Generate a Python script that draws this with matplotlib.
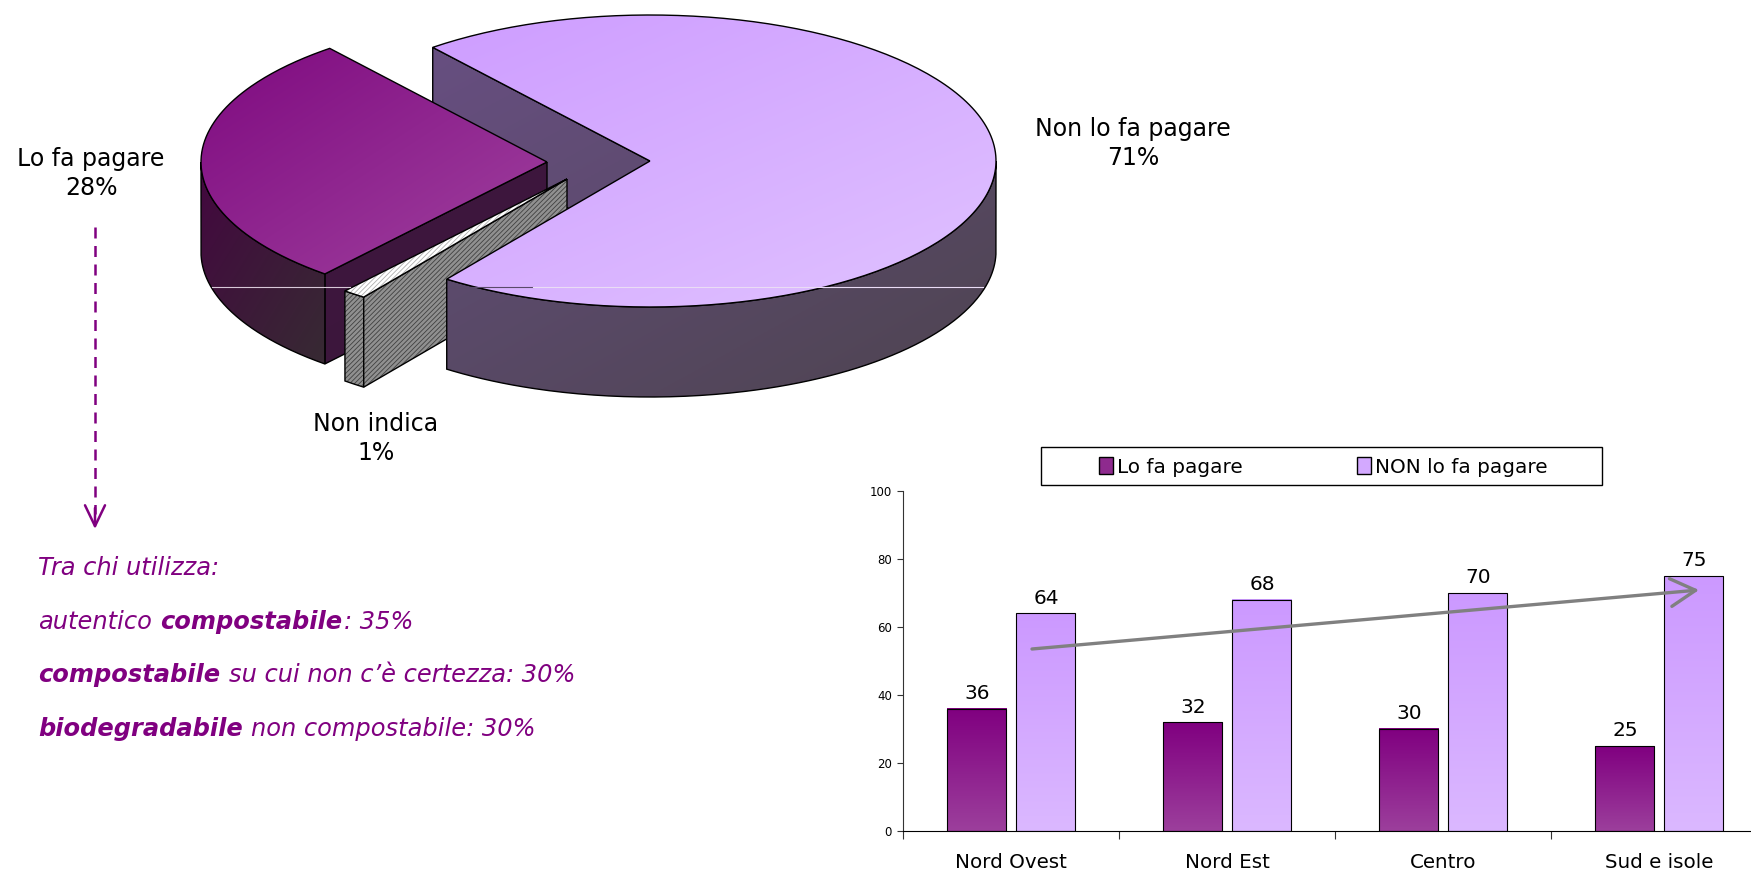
import numpy as np
import matplotlib
matplotlib.use('Agg')
import matplotlib.pyplot as plt
from matplotlib.colors import LinearSegmentedColormap
from matplotlib.patches import Patch, PathPatch, Rectangle
from matplotlib.path import Path

# pie data, in drawing order (clockwise); labels show them rounded
pie_labels = ['Non lo fa pagare', 'Non indica', 'Lo fa pagare']
pie_shares = [70.8, 1.1, 28.1]

# bar data
regions = ['Nord Ovest', 'Nord Est', 'Centro', 'Sud e isole']
lo_fa_pagare = [36, 32, 30, 25]
non_lo_fa_pagare = [64, 68, 70, 75]
y_ticks = [0, 20, 40, 60, 80, 100]

W, H = 1751, 873
PURPLE = '#800080'
plt.rcParams['font.family'] = 'DejaVu Sans'
plt.rcParams['hatch.linewidth'] = 0.6

fig = plt.figure(figsize=(W / 100, H / 100), dpi=100)


def gradient(ax, patch, c0, c1, box=None):
    """Fill a patch with a diagonal gradient, clipped to its outline."""
    ax.add_patch(patch)
    xlim, ylim = ax.get_xlim(), ax.get_ylim()
    if box is None:
        bb = patch.get_path().get_extents()
        box = (bb.x0, bb.x1, bb.y0, bb.y1)
    xx, yy = np.meshgrid(np.linspace(0, 1, 200), np.linspace(0, 1, 200))
    cmap = LinearSegmentedColormap.from_list('g', [c0, c1])
    im = ax.imshow((xx + yy) / 2, cmap=cmap, vmin=0, vmax=1, aspect='auto',
                   extent=(box[0], box[1], box[3], box[2]),
                   interpolation='bilinear', zorder=patch.get_zorder() - 0.005)
    im.set_clip_path(patch)
    ax.set_xlim(xlim)
    ax.set_ylim(ylim)


# ---- bar chart ----
left, right, top, bottom = 903, W, 491, 831
cat_w = 216
ax = fig.add_axes([left / W, 1 - bottom / H, (right - left) / W, (bottom - top) / H])
ax.set_xlim(0, (right - left) / cat_w)
ax.set_ylim(0, 100)
x = np.arange(len(regions)) + 0.5
bar_w = 0.275
off = 0.161
bars1 = ax.bar(x - off, lo_fa_pagare, bar_w, facecolor='none', edgecolor='black', lw=0.8, zorder=3)
bars2 = ax.bar(x + off, non_lo_fa_pagare, bar_w, facecolor='none', edgecolor='black', lw=0.8, zorder=3)
xlim, ylim = ax.get_xlim(), ax.get_ylim()
for bars, c0, c1 in [(bars1, '#800080', '#9C3F9C'), (bars2, '#CC99FF', '#DBB8FF')]:
    for b in bars:
        x0, y0, bw, bh = b.get_x(), b.get_y(), b.get_width(), b.get_height()
        g = np.linspace(0, 1, 200).reshape(-1, 1)
        cmap = LinearSegmentedColormap.from_list('b', [c0, c1])
        ax.imshow(g, cmap=cmap, aspect='auto', extent=(x0, x0 + bw, y0, y0 + bh),
                  origin='upper', zorder=2)
    for b in bars:
        ax.annotate(f'{b.get_height():.0f}', (b.get_x() + b.get_width() / 2, b.get_height()),
                    xytext=(0.5, 4), textcoords='offset points', ha='center', va='bottom',
                    fontsize=14.5, color='black')
ax.set_xlim(xlim)
ax.set_ylim(ylim)
for s in ('top', 'right'):
    ax.spines[s].set_visible(False)
ax.spines['left'].set_color('#333333')
ax.spines['bottom'].set_color('black')
ax.set_yticks(y_ticks)
ax.tick_params(axis='y', labelsize=8.5, length=4, pad=4, color='#333333')
ax.set_xticks(np.arange(len(regions)))
ax.set_xticklabels([])
ax.tick_params(axis='x', length=6, color='#333333')
for xi, name in zip(x, regions):
    ax.annotate(name, (xi, 0), xytext=(0, -31), textcoords='offset pixels',
                ha='center', va='center', fontsize=14.3, annotation_clip=False)

# ---- overlay in pixel coordinates for pie and notes ----
ov = fig.add_axes([0, 0, 1, 1], facecolor='none')
ov.set_xlim(0, W)
ov.set_ylim(H, 0)
ov.axis('off')

A, B, DEPTH = 346, 146, 90
START = 128.9
centers = {'Non lo fa pagare': (650, 161), 'Non indica': (567, 179), 'Lo fa pagare': (547, 162)}

theta = {}
t = START
for name, share in zip(pie_labels, pie_shares):
    theta[name] = (t, t - share * 3.6)
    t -= share * 3.6


def rim(c, t0, t1, n=200):
    ts = np.radians(np.linspace(t0, t1, n))
    return np.column_stack([c[0] + A * np.cos(ts), c[1] - B * np.sin(ts)])


def top_face(name):
    c = centers[name]
    return np.vstack([[c], rim(c, *theta[name]), [c]])


def outer_wall(c, t0, t1):
    upper = rim(c, t0, t1)
    lower = upper[::-1] + [0, DEPTH]
    return np.vstack([upper, lower, upper[:1]])


def radial_wall(c, t):
    p = rim(c, t, t, 1)[0]
    return np.array([c, p, p + [0, DEPTH], [c[0], c[1] + DEPTH], c])


def shape(pts, **kw):
    kw.setdefault('edgecolor', 'black')
    kw.setdefault('facecolor', 'none')
    kw.setdefault('lw', 1)
    return PathPatch(Path(pts), **kw)


def box_of(c):
    return (c[0] - A, c[0] + A, c[1] - B, c[1] + B + DEPTH)


main, grey, lo = pie_labels
c = centers[main]
# inner wall of the main slice, seen through the gap
gradient(ov, shape(radial_wall(c, theta[main][0]), zorder=1), '#6A5087', '#524657', box=box_of(c))

c = centers[lo]
gradient(ov, shape(radial_wall(c, theta[lo][0]), zorder=2), '#3E133E', '#3C1A3C', box=box_of(c))
gradient(ov, shape(outer_wall(c, theta[lo][0], -180), zorder=2.1), '#43073F', '#372A33')
gradient(ov, shape(top_face(lo), zorder=2.2), '#7F0A80', '#A0429F')

c = centers[grey]
for pts, z in [(outer_wall(c, *theta[grey]), 3), (radial_wall(c, theta[grey][0]), 3.1)]:
    ov.add_patch(shape(pts, facecolor='#909090', edgecolor='#404040', hatch='///////', lw=0, zorder=z))
    ov.add_patch(shape(pts, zorder=z + 0.05))
ov.add_patch(shape(top_face(grey), facecolor='white', edgecolor='#b0b0b0', hatch='///////', lw=0, zorder=3.2))
ov.add_patch(shape(top_face(grey), zorder=3.25))

c = centers[main]
gradient(ov, shape(outer_wall(c, theta[main][1], 0), zorder=4), '#675084', '#4E4450', box=box_of(c))
gradient(ov, shape(top_face(main), zorder=4.1), '#CC99FF', '#E0C2FF', box=(c[0] - A, c[0] + A, c[1] - B, c[1] + B))

# thin light streak across the pie
ov.plot([212, 350], [287, 287], color='#d8c8d8', lw=0.8, zorder=5)
ov.plot([448, 533], [287, 287], color='#5a4a6a', lw=0.8, zorder=5)
ov.plot([533, 983], [287, 287], color='#eadcf5', lw=0.8, zorder=5)

# pie labels
label_pos = {main: (1133, 129), lo: (91, 159), grey: (376, 424)}
for name, share in zip(pie_labels, pie_shares):
    lx, ly = label_pos[name]
    ov.text(lx, ly, name, ha='center', va='center', fontsize=17)
    ov.text(lx, ly + 29, f'{share:.0f}%', ha='center', va='center', fontsize=17)

# dashed arrow to the note
ov.plot([95, 95], [227, 514], color=PURPLE, lw=1.8, dashes=(4.4, 3), zorder=5)
ov.annotate('', xy=(95, 529), xytext=(95, 508),
            arrowprops=dict(arrowstyle='->,head_length=0.75,head_width=0.36', color=PURPLE, lw=1.8,
                            mutation_scale=20, shrinkA=0, shrinkB=0))

# note lines with bold parts
notes = [
    [('Tra chi utilizza:', False)],
    [('autentico', False), (' compostabile', True), (': 35%', False)],
    [('compostabile', True), (' su cui non c’è certezza: 30%', False)],
    [('biodegradabile', True), (' non compostabile: 30%', False)],
]
note_y = [568, 622, 675, 729]
NOTE_SIZE = 17.4
renderer = fig.canvas.get_renderer()
for parts, ny in zip(notes, note_y):
    nx = 38
    for s, bold in parts:
        if s.startswith(' '):
            nx += NOTE_SIZE * 100 / 72 * 0.32
        tx = ov.text(nx, ny, s.strip(), fontsize=NOTE_SIZE, style='italic', color=PURPLE,
                     fontweight='bold' if bold else 'normal', va='center', ha='left')
        nx += tx.get_window_extent(renderer).width + 1

# legend with its own box
ov.add_patch(Rectangle((1041, 447), 561, 38, facecolor='white', edgecolor='black', lw=1, zorder=1))
handles = [Patch(facecolor='#8E2A8E', edgecolor='black', label='Lo fa pagare'),
           Patch(facecolor='#D3A9FF', edgecolor='black', label='NON lo fa pagare')]
ov.legend(handles=handles, ncol=2, frameon=False, loc='center left', bbox_to_anchor=(1099 / W, 1 - 467 / H),
          fontsize=14.4, handlelength=0.7, handleheight=0.9, handletextpad=0.2, columnspacing=5.7,
          borderpad=0, borderaxespad=0)

# grey trend arrow
ov.annotate('', xy=(1699, 590), xytext=(1032, 649),
            arrowprops=dict(arrowstyle='->,head_length=0.9,head_width=0.5', color='#808080', lw=2.4,
                            mutation_scale=20, shrinkA=0, shrinkB=0), zorder=6)

fig.savefig('out.png', dpi=100, facecolor='white')
